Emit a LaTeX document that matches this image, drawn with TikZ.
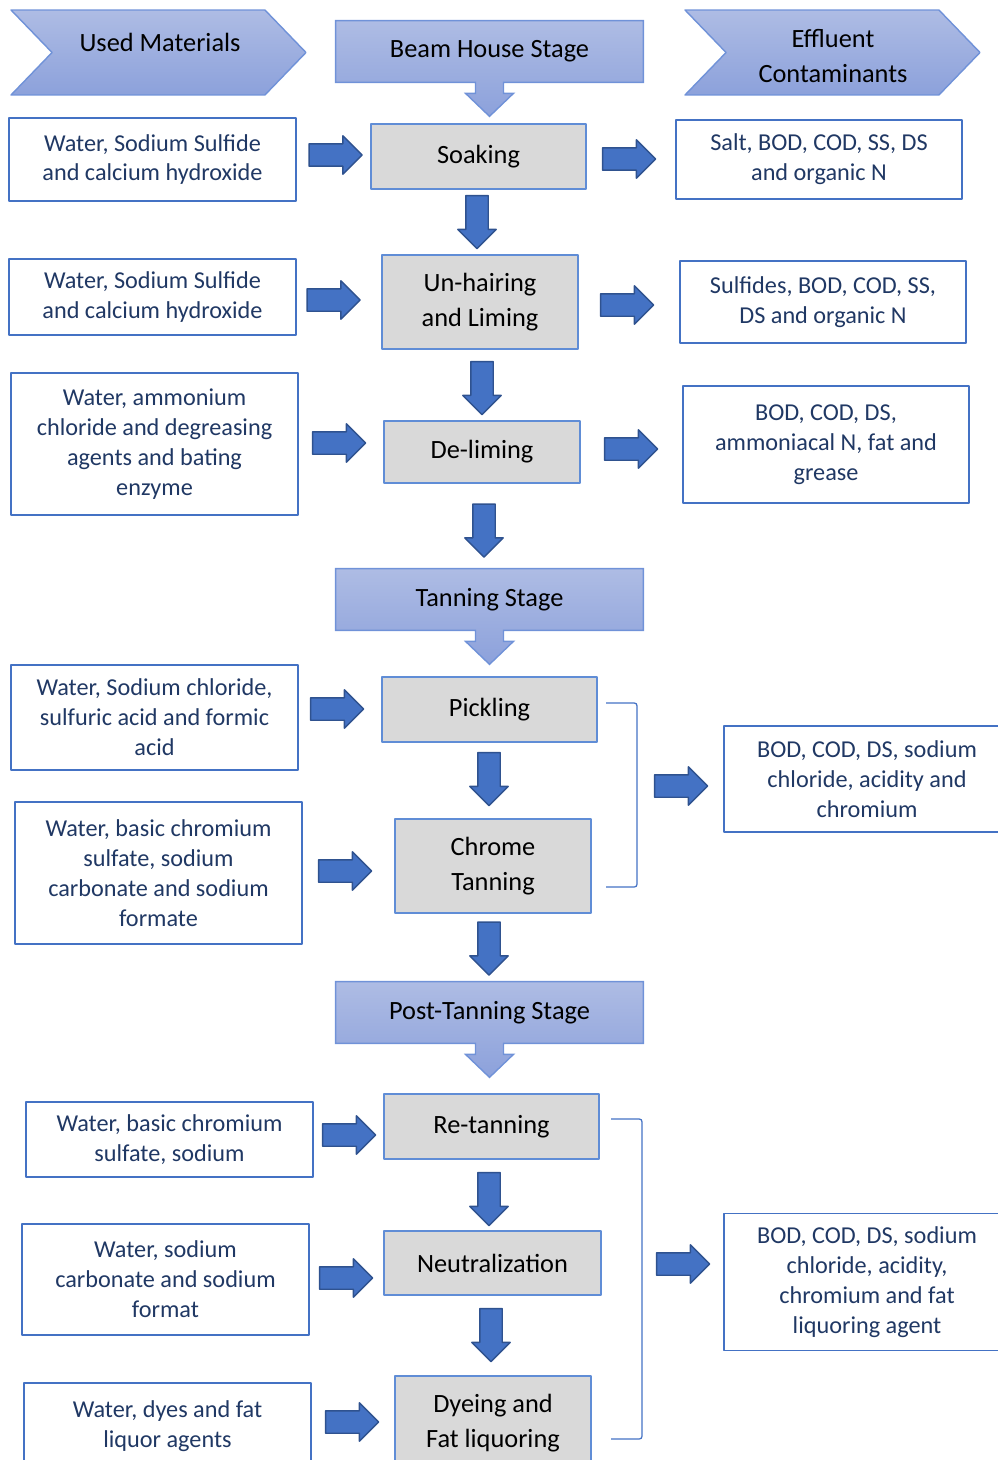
\documentclass[tikz,border=0pt]{standalone}
\usepackage{fontspec}
\setmainfont{Carlito}
\usetikzlibrary{calc,backgrounds,shapes.symbols,shapes.arrows}
\definecolor{boxblue}{RGB}{68,114,196}
\definecolor{procblue}{RGB}{96,141,214}
\definecolor{navytext}{RGB}{32,56,100}
\definecolor{procgray}{RGB}{217,217,217}
\definecolor{stagetop}{RGB}{174,188,228}
\definecolor{stagebot}{RGB}{140,161,219}
\definecolor{stageedge}{RGB}{112,146,216}
\definecolor{arrowedge}{RGB}{47,82,143}
\tikzset{
    mat/.style={draw=boxblue,line width=1.1pt,fill=white,text=navytext,align=center,
        font=\fontsize{13.8}{17}\selectfont,inner sep=0pt,minimum width=5.74cm},
    eff/.style={mat,minimum width=5.72cm},
    proc/.style={draw=procblue,line width=1.1pt,fill=procgray,align=center,
        font=\fontsize{15}{20}\selectfont,inner sep=0pt},
    chev/.style={signal,signal from=west,signal to=east,signal pointer angle=92,
        draw=stageedge,top color=stagetop,bottom color=stagebot,line width=0.8pt,
        minimum width=5.9cm,minimum height=1.7cm,inner sep=0pt,
        font=\fontsize{15}{20}\selectfont,align=center},
    stage/.style={minimum width=6.14cm,minimum height=1.22cm,inner sep=0pt,
        font=\fontsize{15}{20}\selectfont},
    stagebox/.style={draw=stageedge,top color=stagetop,bottom color=stagebot,line width=0.8pt},
    rarr/.style={single arrow,draw=arrowedge,fill=boxblue,line width=0.8pt,inner sep=0.21cm,
        minimum height=1.06cm,minimum width=0.74cm,single arrow head extend=0.16cm},
    darr/.style={rarr,shape border rotate=270},
    sideline/.style={draw=boxblue,line width=0.7pt}
}
\newcommand\stageshape[1]{%
    \begin{scope}[on background layer]
    \draw[stagebox] (#1.north west) -- (#1.north east) -- (#1.south east)
        -- ($(#1.south)+(14,0)$) -- ++(0,11) -- ++(10,0) -- ++(-24,23)
        -- ++(-24,-23) -- ++(10,0) -- ++(0,-11) -- (#1.south west) -- cycle;
    \end{scope}}
\begin{document}
\begin{tikzpicture}[x=0.02cm,y=-0.02cm,line join=round]
    \useasboundingbox (0,0) rectangle (997,1460);

    \node[chev] (um) at (158.5,52.5) {};
    \node[font=\fontsize{15}{20}\selectfont] (umtext) at (160,42) {Used Materials};
    \node[chev] (ec) at (832.5,52.5) {};
    \node[font=\fontsize{15}{20}\selectfont,align=center] (ectext) at (833,56) {Effluent\\Contaminants};

    \node[stage] (bh) at (489.5,51.5) {Beam House Stage};
    \node[stage] (ts) at (489.5,599.5) {Tanning Stage};
    \node[stage] (pts) at (489.5,1012.5) {Post-Tanning Stage};
    \stageshape{bh}
    \stageshape{ts}
    \stageshape{pts}

    \node[proc,minimum width=4.3cm,minimum height=1.3cm] (soak) at (478.5,156.5) {Soaking};
    \node[proc,minimum width=3.92cm,minimum height=1.88cm] (unhair) at (480,302) {Un-hairing\\and Liming};
    \node[proc,minimum width=3.92cm,minimum height=1.24cm] (delime) at (482,452) {De-liming};
    \node[proc,minimum width=4.3cm,minimum height=1.3cm] (pickle) at (489.5,709.5) {Pickling};
    \node[proc,minimum width=3.92cm,minimum height=1.88cm] (chrome) at (493,866) {Chrome\\Tanning};
    \node[proc,minimum width=4.3cm,minimum height=1.3cm] (retan) at (491.5,1126.5) {Re-tanning};
    \node[proc,minimum width=4.34cm,minimum height=1.28cm] (neutral) at (492.5,1263) {Neutralization};
    \node[proc,minimum width=3.92cm,minimum height=1.88cm] (dye) at (493,1423) {Dyeing and\\Fat liquoring};

    \node[mat,minimum height=1.66cm] (mat1) at (152.5,159.5) {Water, Sodium Sulfide\\and calcium hydroxide};
    \node[mat,minimum height=1.52cm] (mat2) at (152.5,297) {Water, Sodium Sulfide\\and calcium hydroxide};
    \node[mat,minimum height=2.84cm] (mat3) at (154.5,444) {Water, ammonium\\chloride and degreasing\\agents and bating\\enzyme};
    \node[mat,minimum height=2.1cm] (mat4) at (154.5,717.5) {Water, Sodium chloride,\\sulfuric acid and formic\\acid};
    \node[mat,minimum height=2.84cm] (mat5) at (158.5,873) {Water, basic chromium\\sulfate, sodium\\carbonate and sodium\\formate};
    \node[mat,minimum height=1.5cm] (mat6) at (169.5,1139.5) {Water, basic chromium\\sulfate, sodium};
    \node[mat,minimum height=2.22cm] (mat7) at (165.5,1279.5) {Water, sodium\\carbonate and sodium\\format};
    \node[mat,minimum height=1.72cm] (mat8) at (167.5,1426) {Water, dyes and fat\\liquor agents};

    \node[eff,minimum height=1.58cm] (eff1) at (819,159.5) {Salt, BOD, COD, SS, DS\\and organic N};
    \node[eff,minimum height=1.64cm] (eff2) at (823,302) {Sulfides, BOD, COD, SS,\\DS and organic N};
    \node[eff,minimum height=2.34cm] (eff3) at (826,444.5) {BOD, COD, DS,\\ammoniacal N, fat and\\grease};
    \node[eff,minimum height=2.12cm] (eff4) at (867,779) {BOD, COD, DS, sodium\\chloride, acidity and\\chromium};
    \node[eff,minimum height=2.74cm] (eff5) at (867,1282) {BOD, COD, DS, sodium\\chloride, acidity,\\chromium and fat\\liquoring agent};

    \foreach \n/\x/\y in {ra1/330/155,ra2/623.5/159,ra3/328/300,ra4/621.5/305,ra5/333.5/443,
        ra6/625.5/449,ra7/331.5/709,ra8/339.5/871,ra9/675.5/786,ra10/343.5/1135,
        ra11/340.5/1278,ra12/677.5/1264,ra13/346.5/1422}
        \node[rarr] (\n) at (\x,\y) {};
    \foreach \n/\x/\y in {da1/477/216.5,da2/482/382.5,da3/484/525,da4/489/773.5,
        da5/489/943,da6/489/1193.5,da7/491/1329.5}
        \node[darr] (\n) at (\x,\y) {};

    \path
    (606,703) coordinate (p1)
    (606,887) coordinate (p3)
    (611,1119) coordinate (r1)
    (611,1439) coordinate (r3)
    ;
    \draw[sideline] (p1) -- ($(p1)+(25,0)$) .. controls ($(p1)+(31,0)$) .. ($(p1)+(31,6)$)
        -- ($(p3)+(31,-6)$) .. controls ($(p3)+(31,0)$) .. ($(p3)+(25,0)$) -- (p3);
    \draw[sideline] (r1) -- ($(r1)+(25,0)$) .. controls ($(r1)+(31,0)$) .. ($(r1)+(31,6)$)
        -- ($(r3)+(31,-6)$) .. controls ($(r3)+(31,0)$) .. ($(r3)+(25,0)$) -- (r3);
\end{tikzpicture}
\end{document}
